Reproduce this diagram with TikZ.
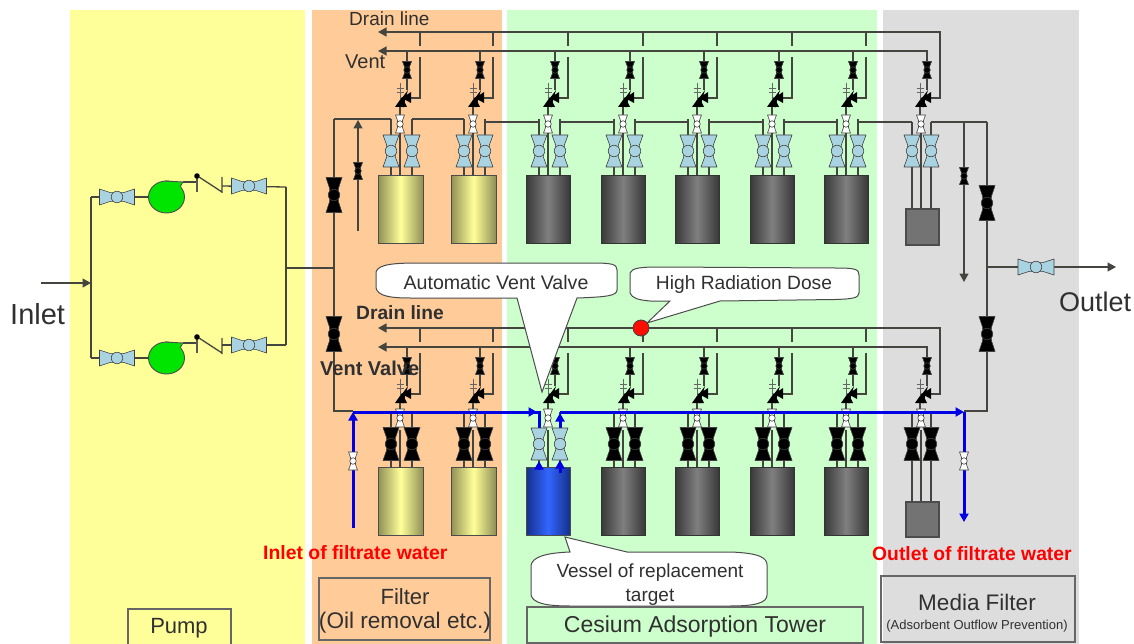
\documentclass[tikz,border=0pt]{standalone}
\usepackage{fontspec}
\setmainfont{Liberation Sans}
\usetikzlibrary{arrows.meta,calc}
\definecolor{bgyel}{HTML}{FFFF99}
\definecolor{bgora}{HTML}{FFCC99}
\definecolor{bggrn}{HTML}{CCFFCC}
\definecolor{bggry}{HTML}{DDDDDD}
\definecolor{pipec}{HTML}{454540}
\definecolor{vblue}{HTML}{A9D3E0}
\definecolor{txtc}{HTML}{303030}
\definecolor{tankyel}{HTML}{8F8F55}
\definecolor{tankblA}{HTML}{14308C}
\definecolor{tankblB}{HTML}{3366FF}
\tikzset{
 pipe/.style={draw=pipec,line width=1.3pt},
 bluep/.style={draw=blue!90!black,line width=3pt},
 tipk/.style={-{Triangle[length=8.5pt,width=9pt]}},
 callout/.style={draw=black!70,fill=white,line width=1pt},
 lab/.style={inner sep=0pt,text=txtc,font=\fontsize{19}{21}\selectfont},
 redlab/.style={inner sep=0pt,text=red,font=\fontsize{19}{21}\selectfont\bfseries},
 boxl/.style={draw=black!60,line width=1.2pt},
}
% x, y, half-height, half-width, fill, rotation
\newcommand\vlv[6]{\begin{scope}[shift={(#1,#2)},rotate=#6]
 \fill[#5,draw=black!75,line width=.6pt,line join=round] (-#4,-#3) -- (#4,-#3) -- (.55*#4,-.38*#3) -- (.55*#4,.38*#3) -- (#4,#3) -- (-#4,#3) -- (-.55*#4,.38*#3) -- (-.55*#4,-.38*#3) -- cycle;
 \fill[#5,draw=black!75,line width=.6pt] (0,0) circle ({.72*#4});
 \end{scope}}
% vent and drain branch of a column: cx, dy
\newcommand\branch[2]{
 \draw[pipe] (#1+7,51+#2) -- (#1+7,90+#2);
 \draw[pipe] (#1+20,32+#2) -- (#1+20,46+#2);
 \draw[pipe] (#1+20,57+#2) -- (#1+20,98+#2) -- (#1+9,98+#2);
 \vlv{#1+7}{70+#2}{8.5}{4.5}{black}{0}
 \draw[black!60,line width=.9pt] (#1,83+#2) -- (#1,99+#2) (#1-3.5,88+#2) -- (#1+3.5,88+#2) (#1-3.5,92+#2) -- (#1+3.5,92+#2);
 \fill[black] (#1+2,97+#2) -- (#1-5,107+#2) -- (#1+7,107+#2) -- cycle;
 \fill[black] (#1+2,98+#2) -- (#1+11,92+#2) -- (#1+11,103+#2) -- cycle;
 \fill[black] (#1+2,98+#2) -- (#1+8,90+#2) -- (#1+3,108+#2) -- cycle;
 \draw[pipe] (#1,107+#2) -- (#1,116+#2);
}
\begin{document}
\begin{tikzpicture}[x=1pt,y=-1pt]
\useasboundingbox (0,0) rectangle (1134,644);
\fill[white] (0,0) rectangle (1134,644);
\fill[bgyel] (70,10) rectangle (305,644);
\fill[bgora] (312,10) rectangle (502,644);
\fill[bggrn] (507,10) rectangle (877,644);
\fill[bggry] (883,10) rectangle (1079,644);

% main lines
\coordinate (inS) at (41,283); \coordinate (inE) at (91,283);
\draw[pipe,tipk] (inS) -- (inE);
\draw[pipe] (91,197) -- (91,358);
\draw[pipe] (91,197) -- (150,197);
\draw[pipe] (91,358) -- (150,358);
\draw[pipe] (286,187) -- (286,345);
\draw[pipe] (286,268) -- (334,268);
\draw[pipe] (183,182) -- (197,182);
\draw[pipe] (183,343) -- (197,343);
\draw[pipe] (222,186) -- (286,187);
\draw[pipe] (222,345) -- (286,345);
% check valves
\foreach \yy in {0,161}{
 \draw[black!65,line width=1.3pt] (197,176+\yy) -- (197,192+\yy);
 \fill[black] (197,176+\yy) circle (2.8);
 \draw[pipec,line width=1.3pt] (199,177+\yy) -- (222,192+\yy) (222,177+\yy) -- (222,193+\yy);
}
\vlv{117}{197}{17.5}{8}{vblue}{90}
\vlv{117}{358}{17.5}{8}{vblue}{90}
\vlv{249}{186}{17.5}{8}{vblue}{90}
\vlv{249}{345}{17.5}{8}{vblue}{90}
\foreach \yy in {0,161}{
 \fill[green!90!black,draw=black!70,line width=.9pt] (166.5,197+\yy) ellipse [x radius=18,y radius=16];
 \fill[green!90!black] (165,181.4+\yy) -- (182,182+\yy) -- (180,190+\yy) -- (165,190+\yy) -- cycle;
 \draw[black!70,line width=.9pt] (165,181+\yy) -- (183,182+\yy) -- (180,187+\yy);
}

% left and right risers
\draw[pipe] (334,119) -- (334,411) -- (353,411);
\draw[pipe] (987,122) -- (987,411) -- (964,411);
\draw[pipe] (987,267) -- (1000,267);
\draw[pipe,tipk] (1000,267) -- (1116,267);
\draw[pipe,{Triangle[length=8.5pt,width=9pt]}-] (358,120) -- (358,231);
\draw[pipe,tipk] (964,123) -- (964,282);
\vlv{358}{171}{8.5}{4.5}{black}{0}
\vlv{964}{176}{8.5}{4.5}{black}{0}
\vlv{334}{195}{17.5}{8}{black}{0}
\vlv{334}{334}{17.5}{8}{black}{0}
\vlv{987}{203}{17.5}{8}{black}{0}
\vlv{987}{334}{17.5}{8}{black}{0}
\vlv{1036}{267}{18}{8}{vblue}{90}

% vent and drain headers
\draw[pipe,tipk] (940,98) -- (940,32) -- (378,32);
\draw[pipe,tipk] (927,62) -- (927,51) -- (378,51);
\draw[pipe,tipk] (940,395) -- (940,328) -- (378,328);
\draw[pipe,tipk] (927,358) -- (927,347) -- (378,347);

% columns, top row
\draw[pipe] (334,119) -- (391,119) (412,119) -- (464,119) (485,122) -- (539,122) (560,122) -- (613,122) (635,122) -- (688,122) (709,122) -- (763,122) (784,122) -- (837,122) (858,122) -- (912,122) (931,122) -- (987,122);
\foreach \cx in {400,473,548,623,697,772,846,920}{
 \branch{\cx}{0}
 \branch{\cx}{296}
}
\foreach \cx in {400,473,548,623,697,772,846}{
 \draw[pipe] (\cx-9,119) -- (\cx-9,176) (\cx+12,119) -- (\cx+12,176) (\cx,133) -- (\cx,176);
 \draw[pipe] (\cx-9,412) -- (\cx-9,467) (\cx+12,412) -- (\cx+12,467) (\cx,430) -- (\cx,467);
}
\draw[pipe] (912,122) -- (912,209) (931,122) -- (931,209) (921,133) -- (921,209);
\draw[pipe] (912,412) -- (912,502) (931,412) -- (931,502) (921,430) -- (921,502);
% tanks
\foreach \cx in {400,473}{
 \shade[left color=tankyel,right color=tankyel,middle color=bgyel,draw=black!70,line width=1pt] (\cx-22,176) rectangle (\cx+23,244);
 \shade[left color=tankyel,right color=tankyel,middle color=bgyel,draw=black!70,line width=1pt] (\cx-22,467) rectangle (\cx+23,535);
}
\foreach \cx in {548,623,697,772,846}{
 \shade[left color=black!78,right color=black!78,middle color=black!50,draw=black!80,line width=1pt] (\cx-22,176) rectangle (\cx+22,244);
}
\foreach \cx in {623,697,772,846}{
 \shade[left color=black!78,right color=black!78,middle color=black!50,draw=black!80,line width=1pt] (\cx-22,467) rectangle (\cx+22,535);
}
\shade[left color=tankblA,right color=tankblA,middle color=tankblB,draw=black!70,line width=1pt] (526,467) rectangle (570,535);
\fill[black!55,draw=black!70,line width=1.2pt] (906,209) rectangle (939,245);
\fill[black!55,draw=black!70,line width=1.2pt] (906,502) rectangle (939,537);

% valves on columns
\foreach \cx in {400,473,548,623,697,772,846}{
 \vlv{\cx-9}{151}{16}{8}{vblue}{0}
 \vlv{\cx+12}{151}{16}{8}{vblue}{0}
 \vlv{\cx}{124}{9}{4.5}{white}{0}
 \vlv{\cx}{418}{9}{4.5}{white}{0}
}
\vlv{912}{151}{16}{8}{vblue}{0}
\vlv{931}{151}{16}{8}{vblue}{0}
\vlv{921}{124}{9}{4.5}{white}{0}
\vlv{921}{418}{9}{4.5}{white}{0}
\foreach \cx in {400,473,623,697,772,846}{
 \vlv{\cx-9}{444}{16.5}{8}{black}{0}
 \vlv{\cx+12}{444}{16.5}{8}{black}{0}
}
\vlv{912}{444}{16.5}{8}{black}{0}
\vlv{931}{444}{16.5}{8}{black}{0}

% blue flow
\draw[bluep,tipk] (353,528) -- (353,412);
\draw[bluep,tipk] (353,412) -- (537,412);
\draw[bluep] (530,412) -- (539,412) -- (539,428);
\draw[bluep,tipk] (560,428) -- (560,413);
\draw[bluep] (560,412) -- (950,412);
\draw[bluep,tipk] (948,412) -- (964,412);
\draw[bluep,tipk] (964,412) -- (964,522);
\draw[bluep,tipk] (539,470) -- (539,461);
\draw[bluep,tipk] (560,473) -- (560,460);
\vlv{539}{444}{16}{8}{vblue}{0}
\vlv{560}{444}{16}{8}{vblue}{0}
\vlv{353}{461}{9}{4.5}{white}{0}
\vlv{964}{461}{9}{4.5}{white}{0}

% callouts
\draw[callout] (376,272) .. controls (378,264) and (395,263) .. (420,263) -- (590,263) .. controls (612,263) and (617,264) .. (617,270) -- (617,290) .. controls (617,296) and (605,297) .. (577,298) -- (542,392) -- (517,298) -- (410,298) .. controls (390,298) and (378,296) .. (376,288) -- cycle;
\draw[callout] (630,273) .. controls (632,268) and (640,267) .. (660,267) -- (835,268) .. controls (855,268) and (859,269) .. (859,275) -- (859,293) .. controls (859,298) and (852,299) .. (835,299.5) -- (720,301) -- (647,323) -- (670,301) -- (650,301) .. controls (638,300) and (632,298) .. (630,293) -- cycle;
\draw[callout] (531,565) .. controls (533,557) and (545,553) .. (570,552) -- (565,537) -- (627,552) -- (730,552) .. controls (760,553) and (767,558) .. (767,565) -- (767,595) .. controls (767,603) and (755,606) .. (730,606) -- (570,606) .. controls (545,606) and (533,603) .. (531,595) -- cycle;
\fill[red!90!orange,draw=black!75,line width=.8pt] (641,328) circle (8);

% boxes
\node[boxl,minimum width=103pt,minimum height=40pt,inner sep=0pt] (bpump) at (179.5,629) {};
\node[boxl,minimum width=171pt,minimum height=62pt,inner sep=0pt] (bfilter) at (404.5,609) {};
\node[boxl,minimum width=336pt,minimum height=36pt,inner sep=0pt] (bces) at (695,625) {};
\node[boxl,minimum width=194pt,minimum height=66pt,inner sep=0pt] (bmed) at (978,609) {};

% labels
\node[lab,anchor=west] (t1) at (349,19) {Drain line};
\node[lab,anchor=west] (t2) at (345,62) {\fontsize{20}{22}\selectfont Vent};
\node[lab] (t3) at (496,282) {\fontsize{19.6}{21}\selectfont Automatic Vent Valve};
\node[lab] (t4) at (744,285) {\fontsize{19.2}{21}\selectfont High Radiation Dose};
\node[lab,anchor=west] (t5) at (356,313) {\fontsize{19.2}{21}\selectfont\bfseries Drain line};
\node[lab,anchor=west] (t6) at (320,368) {\fontsize{20}{22}\selectfont\bfseries Vent Valve};
\node[redlab,anchor=west] (t7) at (263,553) {\fontsize{19.4}{21}\selectfont\bfseries Inlet of filtrate water};
\node[redlab,anchor=west] (t8) at (872,554) {\fontsize{19.3}{21}\selectfont\bfseries Outlet of filtrate water};
\node[lab] (t9) at (650,573) {Vessel of replacement};
\node[lab] (t10) at (650,597) {target};
\node[lab] (t11) at (179,628) {\fontsize{22}{24}\selectfont Pump};
\node[lab] (t12) at (405,597) {\fontsize{22}{24}\selectfont Filter};
\node[lab] (t13) at (405,623) {\fontsize{22.6}{25}\selectfont(Oil removal etc.)};
\node[lab] (t14) at (695,627) {\fontsize{23}{25}\selectfont Cesium Adsorption Tower};
\node[lab] (t15) at (977,602) {\fontsize{22.5}{25}\selectfont Media Filter};
\node[lab] (t16) at (977,626) {\fontsize{13}{15}\selectfont(Adsorbent Outflow Prevention)};
\node[lab,anchor=west] (t17) at (10,314) {\fontsize{29}{31}\selectfont Inlet};
\node[lab,anchor=west] (t18) at (1059,302) {\fontsize{27}{29}\selectfont Outlet};
\end{tikzpicture}
\end{document}
